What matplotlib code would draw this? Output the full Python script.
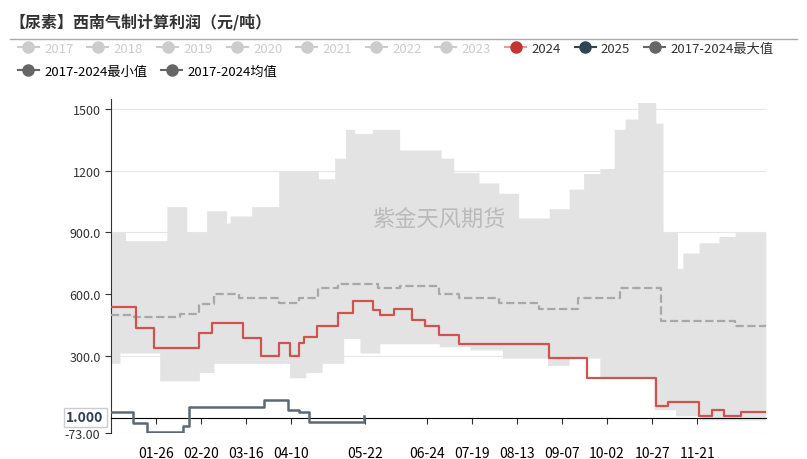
import matplotlib
matplotlib.use("Agg")
import matplotlib.pyplot as plt
from matplotlib.lines import Line2D
import numpy as np

plt.rcParams['font.family'] = ['Noto Sans CJK SC', 'DejaVu Sans']

# breakpoints: day-of-year (Jan 1 = 0) and values (step, post)
max_days = [0, 8, 30, 31, 37, 42, 53, 55, 64, 66, 78, 93, 115, 124, 130, 135, 145, 146, 160, 183, 190, 204, 215, 226, 243, 254, 262, 271, 279, 285, 292, 300, 302, 306, 314, 317, 326, 337, 346, 363]
max_vals = [900, 860, 860, 1025, 1025, 900, 1005, 1005, 945, 980, 1025, 1200, 1160, 1260, 1400, 1380, 1400, 1400, 1300, 1260, 1190, 1140, 1090, 970, 1015, 1110, 1185, 1210, 1400, 1450, 1530, 1530, 1430, 900, 725, 800, 850, 880, 900, 900]
min_days = [0, 5, 27, 49, 57, 99, 108, 117, 129, 138, 149, 157, 182, 199, 217, 242, 254, 271, 301, 313, 326, 363]
min_vals = [265, 315, 180, 220, 265, 195, 220, 265, 385, 315, 360, 360, 345, 330, 290, 255, 290, 195, 40, 10, -10, -10]
mean_days = [0, 13, 38, 49, 57, 71, 93, 104, 115, 126, 148, 160, 182, 193, 215, 237, 259, 282, 303, 305, 327, 346, 363]
mean_vals = [500, 490, 505, 555, 600, 580, 560, 580, 630, 650, 630, 640, 600, 580, 560, 530, 580, 630, 630, 470, 470, 445, 470]
y2024_days = [0, 14, 24, 49, 56, 73, 83, 93, 99, 104, 107, 114, 126, 134, 145, 149, 157, 167, 174, 182, 193, 243, 264, 302, 309, 326, 333, 340, 349, 363]
y2024_vals = [540, 435, 340, 410, 460, 390, 300, 365, 300, 365, 395, 445, 510, 565, 525, 500, 530, 475, 445, 400, 360, 290, 195, 60, 75, 10, 40, 10, 30, 30]
y2025_days = [0, 12, 20, 40, 43, 85, 98, 104, 110, 139, 140]
y2025_vals = [30, -25, -70, -40, 55, 85, 40, 30, -20, -20, 10]

xtick_days = [25, 50, 75, 100, 141, 175, 200, 225, 250, 275, 300, 325]
xtick_labels = ['01-26', '02-20', '03-16', '04-10', '05-22', '06-24', '07-19', '08-13', '09-07', '10-02', '10-27', '11-21']
ytick_vals = [-73, 300, 600, 900, 1200, 1500]
ytick_labels = ['-73.00', '300.0', '600.0', '900.0', '1200', '1500']

fig = plt.figure(figsize=(8.07, 4.60), dpi=100)
ax = fig.add_axes([0.1375, 0.0565, 0.8115, 0.7265])

grid = np.arange(0, 364)
mx = np.array(max_vals)[np.searchsorted(max_days, grid, side='right') - 1]
mn = np.array(min_vals)[np.searchsorted(min_days, grid, side='right') - 1]
ax.fill_between(grid, mn, mx, step='post', color='#e3e3e3', lw=0, zorder=1)

ax.step(mean_days, mean_vals, where='post', color='#a8a8a8', ls='--', lw=1.6, zorder=3)
ax.step(y2024_days, y2024_vals, where='post', color='#d0534f', lw=1.6, zorder=4)
ax.step(y2025_days, y2025_vals, where='post', color='#5b6975', lw=1.8, zorder=5)

ax.set_xlim(0, 363)
ax.set_ylim(-73, 1548)
ax.set_yticks(ytick_vals)
ax.set_yticklabels(ytick_labels, fontsize=9, color='#333333')
ax.yaxis.grid(True, color='#e6e6e6', lw=0.8)
ax.set_axisbelow(True)
ax.set_xticks(xtick_days)
ax.set_xticklabels(xtick_labels, fontsize=9, color='#333333')
for lab in ax.get_xticklabels():
    if lab.get_text() == '05-22':
        lab.set_fontweight('bold'); lab.set_fontsize(11); lab.set_color('#2d3e50')
ax.spines['bottom'].set_position(('data', 0))
ax.tick_params(axis='x', length=4, pad=16, color='#333333')
ax.tick_params(axis='y', length=4, color='#333333')
for s in ['top', 'right']:
    ax.spines[s].set_visible(False)
ax.spines['left'].set_color('#333333')
ax.text(-4, 3, '1.000', ha='right', va='center', fontsize=10, fontweight='bold', color='#2d3e50',
        bbox=dict(boxstyle='square,pad=0.2', fc='white', ec='#cccccc'))
ax.text(0.5, 0.64, '紫金天风期货', transform=ax.transAxes, ha='center', va='center',
        fontsize=16, color='#b0b0b0', alpha=0.8)

fig.text(0.012, 0.952, '【尿素】西南气制计算利润（元/吨）', fontsize=11.5, fontweight='bold', color='#333333', va='center')
fig.add_artist(Line2D([0.012, 0.988], [0.913, 0.913], color='#aaaaaa', lw=1))

def h(c, lc=None):
    return Line2D([], [], color=lc or c, marker='o', markersize=8, markerfacecolor=c, markeredgecolor=c, lw=1.5)

row1 = [('2017', '#cccccc'), ('2018', '#cccccc'), ('2019', '#cccccc'), ('2020', '#cccccc'),
        ('2021', '#cccccc'), ('2022', '#cccccc'), ('2023', '#cccccc'), ('2024', '#c23531'),
        ('2025', '#2f4554'), ('2017-2024最大值', '#666666')]
leg1 = fig.legend([h(c, '#e89a98' if l == '2024' else None) for l, c in row1], [l for l, c in row1],
                  loc='center left', bbox_to_anchor=(0.022, 0.893), ncol=10, frameon=False, fontsize=9.5,
                  handlelength=1.6, handletextpad=0.4, columnspacing=1.05, borderpad=0, borderaxespad=0)
for t, (l, c) in zip(leg1.get_texts(), row1):
    t.set_color('#cccccc' if c == '#cccccc' else '#333333')
row2 = [('2017-2024最小值', '#666666'), ('2017-2024均值', '#666666')]
fig.legend([h(c) for l, c in row2], [l for l, c in row2], loc='center left', bbox_to_anchor=(0.022, 0.843),
           ncol=2, frameon=False, fontsize=9.5, handlelength=1.6, handletextpad=0.4, columnspacing=1.05,
           borderpad=0, borderaxespad=0)

fig.savefig('out.png', dpi=100)
